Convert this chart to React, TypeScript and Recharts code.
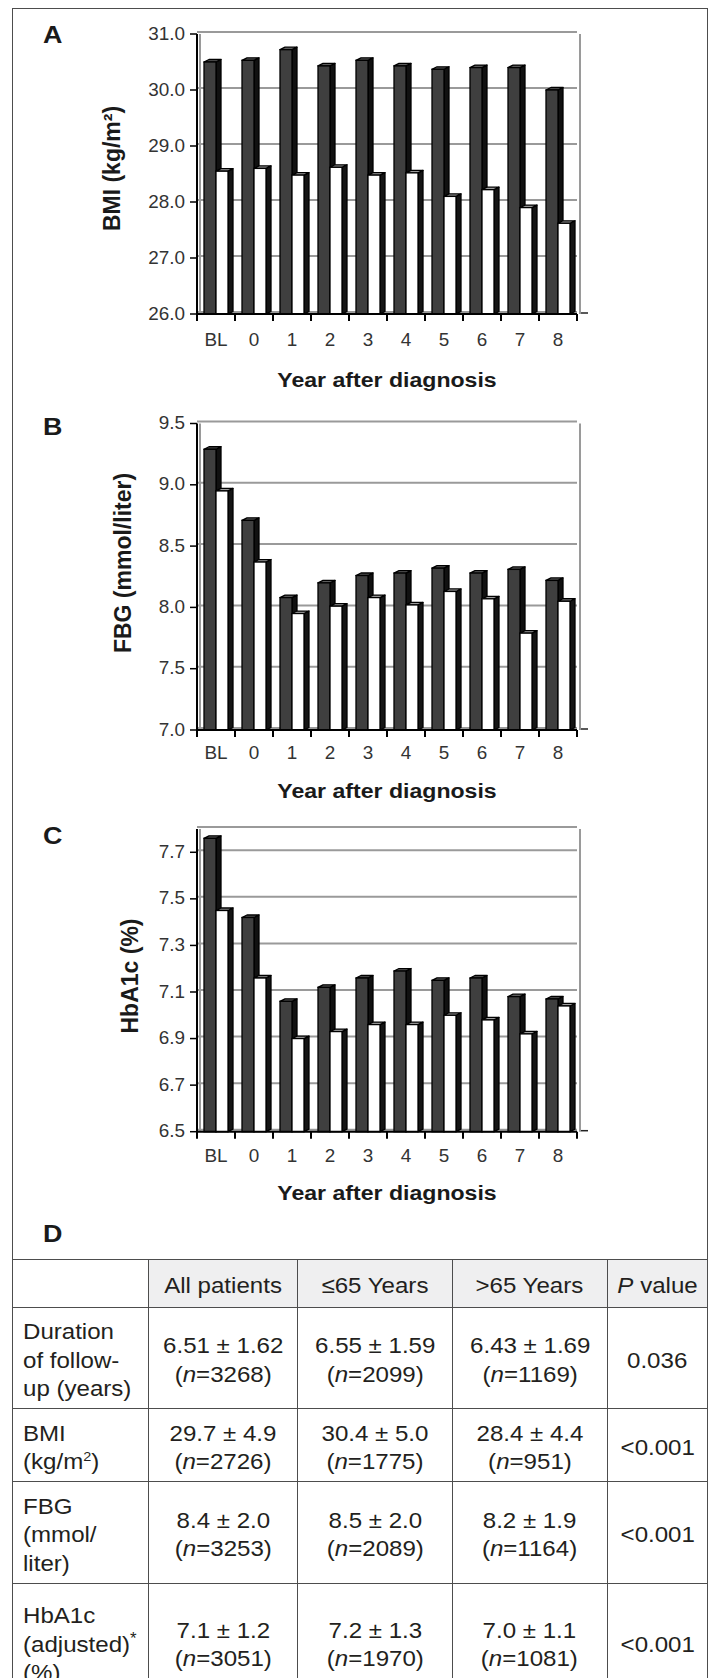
import React from 'react';
import { BarChart, Bar, XAxis, YAxis, CartesianGrid } from 'recharts';

// ---------- data ----------
const categories = ['BL', '0', '1', '2', '3', '4', '5', '6', '7', '8'];

const bmiAge65OrLess = [30.5, 30.53, 30.72, 30.43, 30.53, 30.43, 30.37, 30.4, 30.4, 30.0];
const bmiOver65 = [28.55, 28.6, 28.48, 28.62, 28.48, 28.52, 28.1, 28.22, 27.9, 27.62];

const fbgAge65OrLess = [9.29, 8.71, 8.08, 8.2, 8.26, 8.28, 8.32, 8.28, 8.31, 8.22];
const fbgOver65 = [8.95, 8.37, 7.95, 8.01, 8.08, 8.02, 8.13, 8.07, 7.79, 8.05];

const hba1cAge65OrLess = [7.76, 7.42, 7.06, 7.12, 7.16, 7.19, 7.15, 7.16, 7.08, 7.07];
const hba1cOver65 = [7.45, 7.16, 6.9, 6.93, 6.96, 6.96, 7.0, 6.98, 6.92, 7.04];

const bmiTicks = [26, 27, 28, 29, 30, 31];
const fbgTicks = [7, 7.5, 8, 8.5, 9, 9.5];
const hba1cTicks = [6.5, 6.7, 6.9, 7.1, 7.3, 7.5, 7.7];

const tableHeader = ['', 'All patients', '≤65 Years', '>65 Years', 'P value'];
const rowLabels = [
  ['Duration', 'of follow-', 'up (years)'],
  ['BMI', '(kg/m²)'],
  ['FBG', '(mmol/', 'liter)'],
  ['HbA1c', '(adjusted)*', '(%)'],
];
const allMean = ['6.51 ± 1.62', '29.7 ± 4.9', '8.4 ± 2.0', '7.1 ± 1.2'];
const allN = ['3268', '2726', '3253', '3051'];
const youngMean = ['6.55 ± 1.59', '30.4 ± 5.0', '8.5 ± 2.0', '7.2 ± 1.3'];
const youngN = ['2099', '1775', '2089', '1970'];
const oldMean = ['6.43 ± 1.69', '28.4 ± 4.4', '8.2 ± 1.9', '7.0 ± 1.1'];
const oldN = ['1169', '951', '1164', '1081'];
const pValues = ['0.036', '<0.001', '<0.001', '<0.001'];

// ---------- layout ----------
const FONT = '"Liberation Sans", Arial, Helvetica, sans-serif';
const W = 709;
const Y_AXIS_W = 197;
const MARGIN_RIGHT = 132;
const PLOT_W = W - Y_AXIS_W - MARGIN_RIGHT;
const BAND = PLOT_W / categories.length;
const TICK_SX = 1.08;
const TITLE_SX = 1.1;
const TABLE_SX = 1.07;
const DX = 5;
const DY = 2.5;

const panels = [
  {
    letter: 'A', top: 0, height: 400, plotTop: 34, plotBottom: 314, domain: [26, 31],
    ticks: bmiTicks, young: bmiAge65OrLess, old: bmiOver65, yLabel: 'BMI (kg/m²)',
    letterY: 43, tickDy: 32, titleY: 386.7, yLabelX: 120, yLabelY: 168.5,
  },
  {
    letter: 'B', top: 400, height: 410, plotTop: 23.5, plotBottom: 330, domain: [7, 9.5],
    ticks: fbgTicks, young: fbgAge65OrLess, old: fbgOver65, yLabel: 'FBG (mmol/liter)',
    letterY: 35, tickDy: 29.3, titleY: 398.3, yLabelX: 131, yLabelY: 163,
  },
  {
    letter: 'C', top: 810, height: 440, plotTop: 19, plotBottom: 321.7, domain: [6.5, 7.8],
    ticks: hba1cTicks, young: hba1cAge65OrLess, old: hba1cOver65, yLabel: 'HbA1c (%)',
    letterY: 34, tickDy: 30, titleY: 390, yLabelX: 137.5, yLabelY: 166,
  },
];

const makeShape = (front: string, top: string, side: string) => (props: any) => {
  const { x, y, width, height } = props;
  if (x == null || y == null || !width || !height || height <= 0) return <g />;
  const sw = 1.3;
  return (
    <g>
      <polygon
        points={`${x + width},${y} ${x + width + DX},${y - DY} ${x + width + DX},${y + height - DY} ${x + width},${y + height}`}
        fill={side} stroke="#000" strokeWidth={sw} strokeLinejoin="round"
      />
      <polygon
        points={`${x},${y} ${x + DX},${y - DY} ${x + width + DX},${y - DY} ${x + width},${y}`}
        fill={top} stroke="#000" strokeWidth={sw} strokeLinejoin="round"
      />
      <rect x={x} y={y} width={width} height={height} fill={front} stroke="#000" strokeWidth={sw} />
    </g>
  );
};

const darkShape = makeShape('#3f3f3f', '#5c5c5c', '#111111');
const whiteShape = makeShape('#ffffff', '#9c9c9c', '#151515');

function Panel({ cfg }: { cfg: any }) {
  const data = categories.map((c, i) => ({ cat: c, young: cfg.young[i], old: cfg.old[i] }));
  const [min, max] = cfg.domain;
  const gridVals = cfg.ticks.includes(max) ? cfg.ticks : [...cfg.ticks, max];
  const plotCenter = Y_AXIS_W + PLOT_W / 2;
  return (
    <div style={{ position: 'absolute', left: 0, top: cfg.top, width: W, height: cfg.height }}>
      <BarChart
        width={W}
        height={cfg.height}
        data={data}
        margin={{ top: cfg.plotTop, right: MARGIN_RIGHT, bottom: 0, left: 0 }}
        barCategoryGap={7}
        barGap={0}
      >
        <CartesianGrid
          stroke="#9a9a9a"
          strokeWidth={2}
          horizontalCoordinatesGenerator={({ offset }: any) =>
            gridVals.map((v: number) => offset.top + ((max - v) / (max - min)) * offset.height - 2)
          }
          verticalCoordinatesGenerator={({ offset }: any) => [offset.left + 3, offset.left + offset.width + 3]}
        />
        <XAxis
          dataKey="cat"
          height={cfg.height - cfg.plotBottom}
          tickSize={0}
          tickMargin={0}
          tickLine={false}
          interval={0}
          axisLine={{ stroke: '#000', strokeWidth: 2 }}
          tick={(p: any) => {
            const isLast = p.index === categories.length - 1;
            return (
              <g>
                <line x1={p.x - BAND / 2} y1={p.y} x2={p.x - BAND / 2} y2={p.y + 7} stroke="#000" strokeWidth={2} />
                {isLast && (
                  <>
                    <line x1={p.x + BAND / 2} y1={p.y} x2={p.x + BAND / 2} y2={p.y + 7} stroke="#000" strokeWidth={2} />
                    <line x1={p.x + BAND / 2 + 4} y1={p.y - 1} x2={p.x + BAND / 2 + 11} y2={p.y - 1} stroke="#222" strokeWidth={1.5} />
                  </>
                )}
                <g transform={`translate(${p.x},${p.y + cfg.tickDy}) scale(${TICK_SX},1)`}>
                  <text x={0} y={0} textAnchor="middle" fontSize={17.5} fill="#333" fontFamily={FONT}>
                    {p.payload.value}
                  </text>
                </g>
              </g>
            );
          }}
          label={{
            value: 'Year after diagnosis',
            content: () => (
              <g transform={`translate(${plotCenter},${cfg.titleY}) scale(${TITLE_SX},1)`}>
                <text x={0} y={0} textAnchor="middle" fontSize={21} fontWeight="bold" fill="#1a1a1a" fontFamily={FONT}>
                  Year after diagnosis
                </text>
              </g>
            ),
          }}
        />
        <YAxis
          type="number"
          domain={cfg.domain}
          ticks={cfg.ticks}
          interval={0}
          width={Y_AXIS_W}
          tickSize={7}
          tickMargin={5}
          axisLine={{ stroke: '#000', strokeWidth: 2 }}
          tickLine={{ stroke: '#000', strokeWidth: 1.5 }}
          tick={(p: any) => (
            <g transform={`translate(${p.x},${p.y}) scale(${TICK_SX},1)`}>
              <text x={0} y={0} dy={5.5} textAnchor="end" fontSize={17.5} fill="#333" fontFamily={FONT}>
                {Number(p.payload.value).toFixed(1)}
              </text>
            </g>
          )}
          label={{
            value: cfg.yLabel,
            content: () => (
              <text
                x={cfg.yLabelX}
                y={cfg.yLabelY}
                transform={`rotate(-90, ${cfg.yLabelX}, ${cfg.yLabelY})`}
                textAnchor="middle"
                fontSize={23}
                fontWeight="bold"
                fill="#1a1a1a"
                fontFamily={FONT}
              >
                {cfg.yLabel}
              </text>
            ),
          }}
        />
        <Bar dataKey="young" shape={darkShape} isAnimationActive={false} />
        <Bar dataKey="old" shape={whiteShape} isAnimationActive={false} />
      </BarChart>
    </div>
  );
}

const colX = [12.7, 148.3, 297.7, 452.3, 607.3, 707.7];
const rowY = [1259.3, 1307.3, 1408.5, 1481.7, 1583.3, 1701];
const LINE = '#4d4d4d';

function Scaled({ children, origin }: { children: React.ReactNode; origin: string }) {
  return (
    <div style={{ display: 'inline-block', transform: `scaleX(${TABLE_SX})`, transformOrigin: origin }}>{children}</div>
  );
}

function Table() {
  const cells: React.ReactNode[] = [];
  for (let r = 0; r < 5; r++) {
    for (let c = 0; c < 5; c++) {
      const left = colX[c];
      const top = rowY[r];
      const width = colX[c + 1] - colX[c];
      const height = rowY[r + 1] - rowY[r];
      let content: React.ReactNode = null;
      let align: 'left' | 'center' = 'center';
      if (r === 0) {
        if (c === 4) content = <span><i>P</i> value</span>;
        else content = tableHeader[c];
      } else {
        const i = r - 1;
        if (c === 0) {
          align = 'left';
          content = rowLabels[i].map((l, k) => {
            let node: React.ReactNode = l;
            if (l.includes('²')) node = <>(kg/m<sup style={{ fontSize: '0.6em', lineHeight: 0 }}>2</sup>)</>;
            if (l.endsWith(')*')) node = <>{l.slice(0, -1)}<sup style={{ fontSize: '0.7em', lineHeight: 0 }}>*</sup></>;
            return <div key={k}>{node}</div>;
          });
        } else if (c === 4) {
          content = pValues[i];
        } else {
          const mean = c === 1 ? allMean : c === 2 ? youngMean : oldMean;
          const n = c === 1 ? allN : c === 2 ? youngN : oldN;
          content = (
            <>
              <div>{mean[i]}</div>
              <div>(<i>n</i>={n[i]})</div>
            </>
          );
        }
      }
      cells.push(
        <div
          key={`${r}-${c}`}
          style={{
            position: 'absolute', left, top, width, height, boxSizing: 'border-box',
            background: r === 0 && c > 0 ? '#efeff0' : '#fff',
            display: 'flex', alignItems: 'center',
            justifyContent: align === 'left' ? 'flex-start' : 'center',
            paddingLeft: align === 'left' ? 10 : 0,
            paddingTop: 6,
            textAlign: align,
            whiteSpace: 'nowrap',
          }}
        >
          <Scaled origin={align === 'left' ? 'left center' : 'center center'}>{content}</Scaled>
        </div>
      );
    }
  }
  const lines: React.ReactNode[] = [];
  rowY.slice(0, 5).forEach((y, i) =>
    lines.push(<div key={`h${i}`} style={{ position: 'absolute', left: colX[0] - 0.8, top: y - 0.8, width: colX[5] - colX[0] + 1.6, height: 1.6, background: LINE }} />)
  );
  colX.forEach((x, i) =>
    lines.push(<div key={`v${i}`} style={{ position: 'absolute', left: x - 0.8, top: rowY[0], width: 1.6, height: 1678 - rowY[0], background: LINE }} />)
  );
  return (
    <div style={{ fontFamily: FONT, fontSize: 22.5, lineHeight: '28.5px', color: '#231f20' }}>
      {cells}
      {lines}
    </div>
  );
}

export default function App() {
  return (
    <div style={{ position: 'relative', width: W, height: 1678, overflow: 'hidden', background: '#fff' }}>
      <style>{`body{margin:0;}`}</style>
      {/* outer frame */}
      <div style={{ position: 'absolute', left: colX[0] - 0.8, top: 7.5, width: colX[5] - colX[0] + 1.6, height: 1.6, background: LINE }} />
      <div style={{ position: 'absolute', left: colX[0] - 0.8, top: 7.5, width: 1.6, height: 1678, background: LINE }} />
      <div style={{ position: 'absolute', left: colX[5] - 0.8, top: 7.5, width: 1.6, height: 1678, background: LINE }} />
      {panels.map((p) => (
        <Panel key={p.letter} cfg={p} />
      ))}
      <svg width={W} height={1678} style={{ position: 'absolute', left: 0, top: 0, pointerEvents: 'none' }}>
        {panels.map((p) => (
          <g key={p.letter} transform={`translate(43,${p.top + p.letterY}) scale(1.12,1)`}>
            <text x={0} y={0} fontSize={24} fontWeight="bold" fill="#1a1a1a" fontFamily={FONT}>{p.letter}</text>
          </g>
        ))}
        <g transform="translate(43,1241.5) scale(1.12,1)">
          <text x={0} y={0} fontSize={24} fontWeight="bold" fill="#1a1a1a" fontFamily={FONT}>D</text>
        </g>
      </svg>
      <Table />
    </div>
  );
}
